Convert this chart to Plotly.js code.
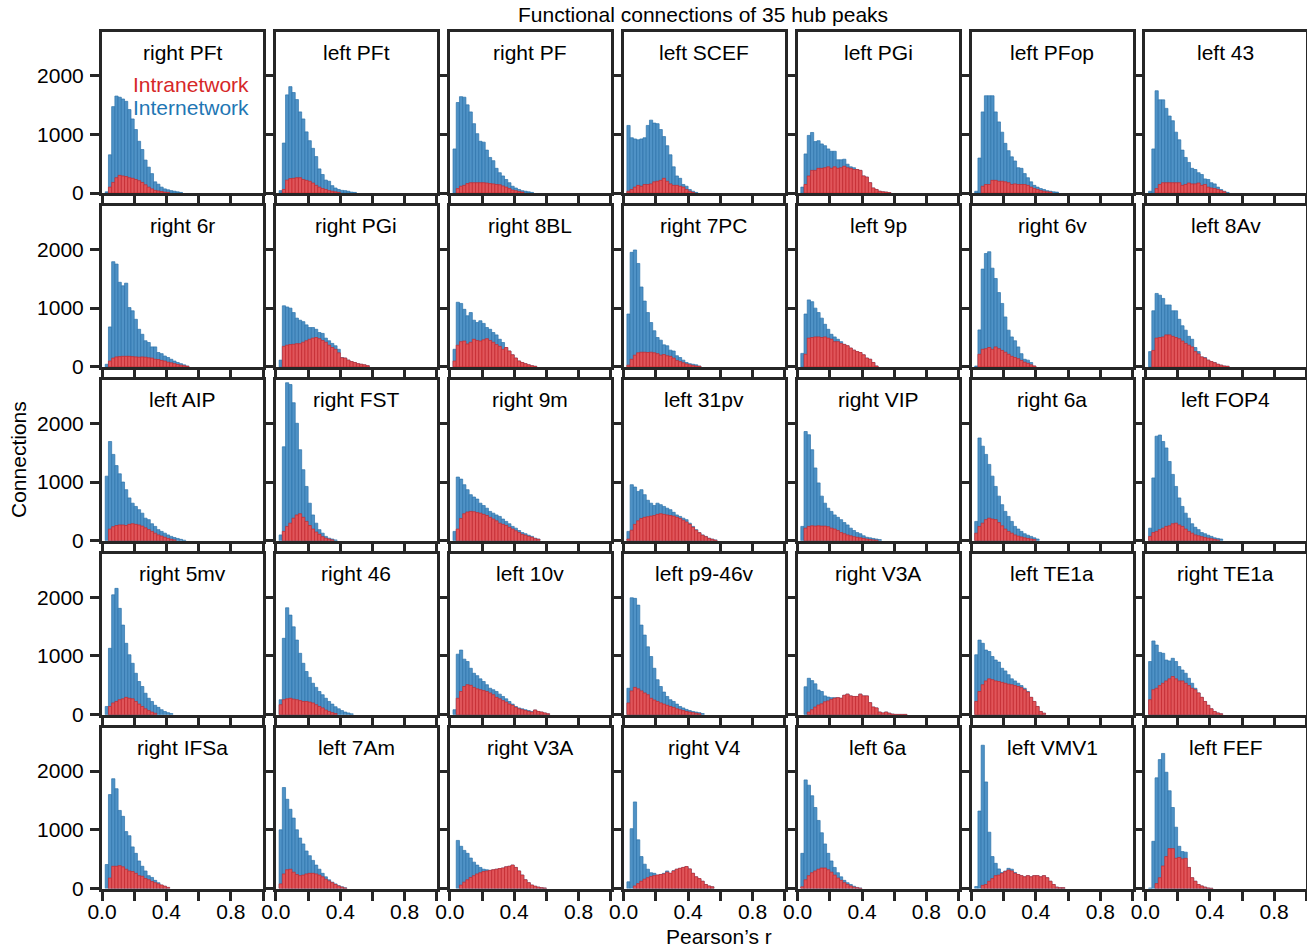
<!DOCTYPE html>
<html>
<head>
<meta charset="utf-8">
<script src="https://cdn.plot.ly/plotly-3.0.1.min.js"></script>
<style>html,body{margin:0;padding:0;background:#fff}#chart{width:1307px;height:951px}</style>
</head>
<body>
<div id="chart"></div>
<script>
// ---- data ----
const binStart = 0.0;
const binWidth = 0.02;

const panelTitles = [
  "right PFt","left PFt","right PF","left SCEF","left PGi","left PFop","left 43",
  "right 6r","right PGi","right 8BL","right 7PC","left 9p","right 6v","left 8Av",
  "left AIP","right FST","right 9m","left 31pv","right VIP","right 6a","left FOP4",
  "right 5mv","right 46","left 10v","left p9-46v","right V3A","left TE1a","right TE1a",
  "right IFSa","left 7Am","right V3A","right V4","left 6a","left VMV1","left FEF"
];

// Internetwork counts per bin (bin i covers [i*0.02, (i+1)*0.02))
const internetwork = [
  [0,20,650,1470,1650,1630,1600,1560,1420,1260,1080,880,740,560,440,330,190,150,100,70,55,40,30,20,10],
  [0,40,850,1670,1810,1710,1590,1380,1260,1040,890,760,620,410,315,220,200,125,85,60,45,40,30,15,10],
  [0,750,1540,1640,1630,1500,1380,1180,1010,880,865,730,605,550,420,345,290,230,175,115,85,60,40,30,20,10],
  [0,1150,940,920,905,920,940,1150,1240,1190,1180,1080,960,805,650,445,290,250,145,115,60,30,10],
  [0,100,665,980,1030,875,890,835,805,750,710,710,565,565,575,490,445,430,400,385,290,270,175,85,60,30,20,15,5],
  [0,30,595,1380,1655,1655,1655,1380,1210,1035,845,720,615,545,430,420,330,260,190,130,100,75,60,40,30,20,15],
  [0,30,750,1740,1585,1585,1440,1310,1230,1035,905,730,605,520,420,400,345,315,240,230,175,155,100,60,30,10],

  [0,45,680,1790,1750,1440,1380,1425,1010,955,810,640,555,445,415,340,340,245,225,185,160,130,100,75,55,35,15],
  [0,115,1040,1020,1000,925,830,795,770,715,670,670,640,585,570,490,445,400,360,300,160,150,115,90,75,55,45,35,20],
  [0,300,1100,1080,980,870,925,795,755,785,740,670,640,585,545,470,415,330,270,205,150,100,75,55,35,20,10],
  [0,900,1950,1990,1760,1360,1120,925,755,615,500,455,375,360,285,270,190,160,115,75,55,45,35,15],
  [0,230,900,1140,1110,1000,925,830,725,640,555,510,470,430,385,360,320,285,260,245,205,150,130,75,15],
  [0,15,630,1665,1930,1960,1680,1505,1265,1080,850,625,510,445,340,225,130,115,75,15],
  [0,260,955,1250,1220,1165,1055,1055,955,955,810,700,625,520,470,330,260,170,160,115,90,75,45,30,15,10],

  [0,1100,1690,1470,1280,1140,1000,870,730,640,585,530,470,385,360,290,245,190,160,130,100,75,55,40,25,10],
  [0,100,1600,2690,2660,2350,2000,1550,1210,925,640,440,300,190,130,75,45,30,15],
  [0,160,1085,1050,955,870,785,745,710,640,600,555,500,470,440,415,370,330,290,245,215,175,140,120,95,75,45,30],
  [0,160,955,915,840,870,785,690,640,600,640,615,585,555,530,485,440,415,385,360,300,245,190,140,100,75,45,30,15],
  [0,245,1860,1805,1550,1240,985,760,640,555,500,440,400,360,310,270,215,175,140,120,85,60,50,40,30,20],
  [0,330,1750,1610,1470,1300,1100,925,760,615,500,415,330,245,200,160,120,95,75,50,30],
  [0,215,1070,1780,1800,1690,1580,1350,1130,925,730,585,470,385,290,230,190,140,120,95,75,50,40,30],

  [0,140,1130,2040,2150,1810,1525,1215,1020,875,705,565,480,365,280,225,160,125,85,55,35,20],
  [0,255,1300,1820,1695,1495,1270,1045,875,735,635,535,465,395,340,280,225,180,135,100,70,45,30,15],
  [0,85,1030,1100,945,905,790,705,665,610,565,510,450,425,395,350,310,270,225,180,140,115,100,85,70,55,80,55,45,30,15],
  [0,450,1990,1980,1865,1525,1355,1155,990,790,595,480,385,310,255,225,180,140,115,90,70,55,45,35,20],
  [0,0,475,620,580,525,420,395,320,300,290,290,290,280,330,350,320,310,310,350,320,320,205,130,115,45,30,45,25,10,5,5,5,5],
  [0,1020,1270,1215,1100,1075,990,930,895,790,745,680,610,575,535,495,450,395,295,225,140,55,25],
  [0,905,1255,1185,1060,1045,930,915,960,905,820,760,705,620,535,450,370,295,225,160,100,55,30,15],

  [0,410,1600,1870,1700,1330,1230,970,900,710,600,470,380,300,220,190,140,100,60,40,20],
  [0,1000,1720,1520,1350,1200,1000,860,760,640,560,480,400,330,260,200,150,110,80,50,30,15],
  [0,0,820,720,650,600,520,450,400,360,330,320,310,320,330,340,350,370,380,400,360,300,230,150,100,60,40,25,15,10],
  [0,115,1020,1475,830,545,415,330,270,260,230,240,260,300,260,305,330,345,360,375,335,260,200,170,125,70,45,30],
  [0,600,1850,1760,1580,1380,1160,950,760,600,470,360,270,200,140,100,70,40,20,10],
  [0,35,1320,2440,1815,960,545,430,335,275,300,345,330,275,240,220,200,220,200,220,220,200,220,185,125,70,25,15,15],
  [0,10,805,1885,2195,2300,1980,1665,1380,1045,720,630,620,360,185,125,70,45,25,10,5]
];

// Intranetwork counts per bin
const intranetwork = [
  [0,0,100,180,260,300,290,280,260,250,230,210,180,140,100,70,45,35,25,15,10],
  [0,0,60,220,245,250,260,260,230,215,200,170,130,100,75,60,40,30,20,10],
  [0,0,75,115,130,160,175,175,175,175,175,170,160,155,145,140,120,100,75,50,40,25,15],
  [0,30,60,100,130,115,145,145,155,190,200,215,250,200,155,130,130,115,100,60,30,10],
  [0,0,145,290,385,385,420,420,430,445,420,445,420,430,455,430,420,400,400,385,290,270,175,85,60,30,20,15,5],
  [0,0,0,115,145,145,215,215,200,200,190,175,145,155,145,145,145,130,100,75,60,40,30,20,15],
  [0,0,0,75,145,175,175,175,175,175,175,130,145,170,155,155,170,130,145,100,85,75,60,40,20],

  [0,0,100,150,170,175,180,180,180,175,170,165,170,165,155,150,130,125,110,100,80,70,55,40,30,20,10],
  [0,0,350,370,380,385,395,395,420,445,470,490,500,480,450,420,370,330,300,240,155,150,115,90,75,55,45,35,20],
  [0,100,370,430,440,390,420,470,450,440,460,480,450,420,380,350,300,330,270,205,150,100,75,55,35,20,10],
  [0,30,130,200,240,250,250,245,250,240,225,200,210,190,180,150,110,90,70,50,35,25,15,10],
  [0,0,215,490,500,510,510,500,510,490,470,430,430,400,380,360,320,285,260,245,205,150,130,75,15],
  [0,0,215,300,310,330,300,340,310,280,250,215,180,160,140,110,80,60,35,15],
  [0,0,280,490,500,510,545,545,520,500,480,440,400,370,340,260,220,170,150,115,90,70,45,30,15,10],

  [0,0,200,240,260,270,270,260,280,290,280,270,250,220,190,160,130,100,80,60,40,25,15],
  [0,0,160,245,300,385,440,460,400,330,260,200,150,110,70,45,30,15],
  [0,0,200,380,460,490,500,495,480,470,450,430,400,370,340,300,280,260,230,200,170,140,110,95,75,60,35,25],
  [0,30,180,280,340,380,400,410,420,430,450,460,450,440,430,420,400,380,350,320,280,230,180,135,95,70,40,25,10],
  [0,0,215,245,255,250,255,250,250,240,215,200,175,140,120,100,85,70,60,50,40,30,20,15,10],
  [0,130,245,300,360,385,370,360,310,255,200,160,130,100,80,65,50,40,30,20],
  [0,75,140,160,190,215,245,255,290,300,270,245,200,160,130,100,85,70,55,45,35,25,15],

  [0,0,140,200,225,255,270,295,280,270,225,180,140,100,70,45,25],
  [0,170,255,270,280,265,255,240,225,225,215,200,170,140,115,80,55,35,20],
  [0,0,280,395,480,510,500,465,440,425,410,395,370,340,295,270,240,215,180,160,125,100,85,70,55,45,80,55,45,30,15],
  [0,200,405,465,440,405,370,340,280,250,225,200,180,160,140,125,100,85,70,55,45,35,25,15],
  [0,0,0,45,85,130,165,185,220,235,260,280,290,280,330,350,320,310,310,350,320,320,205,130,115,45,30,45,25,10,5,5,5,5],
  [0,225,395,510,575,610,595,575,565,550,535,520,510,495,480,460,425,385,295,225,140,55,25],
  [0,255,425,450,495,535,575,610,650,610,575,575,535,495,450,425,370,295,225,160,100,55,30,15],

  [0,0,180,380,380,390,370,330,300,290,260,220,210,170,150,120,100,80,60,40,20],
  [0,80,250,320,330,280,240,220,230,250,260,260,250,230,200,160,130,100,70,45,25,10],
  [0,0,0,60,110,150,190,220,250,270,290,300,310,320,330,340,350,370,380,400,360,300,230,150,100,60,40,25,15,10],
  [0,0,0,45,85,125,160,185,205,220,230,240,250,280,260,300,330,345,360,375,335,260,200,170,125,70,45,30],
  [0,30,150,220,270,300,330,350,350,320,280,230,180,140,100,70,45,25,15,5],
  [0,0,0,55,70,125,170,220,230,260,290,315,300,260,240,220,200,220,200,220,220,200,220,185,125,70,25,15,15],
  [0,0,0,85,185,385,545,680,680,515,530,505,515,360,185,125,70,45,25,10,5]
];

const seriesNames = ["Internetwork","Intranetwork"];
const xTickVals = [0,0.2,0.4,0.6,0.8,1.0];
const xTickText = ["0.0","","0.4","","0.8",""];
const yTickVals = [0,1000,2000];
const yTickText = ["0","1000","2000"];
const xRange = [0,1];
const yRange = [0,2740];

// ---- styling / geometry ----
const W = 1307, H = 951;
const nCols = 7, nRows = 5;
const left0 = 102, top0 = 32, step = 173.9, pw = 161, ph = 161;
const FONT = "Liberation Sans, Arial, Helvetica, sans-serif";
const INK = "#262626";
const BLUE = "#4f92c6", BLUE_EDGE = "#2c72aa";
const RED = "#e0555a", RED_EDGE = "#c9282d";

function toBars(counts) {
  const xs = [], ys = [];
  counts.forEach((v, i) => {
    if (v > 0) { xs.push(binStart + binWidth * (i + 0.5)); ys.push(v); }
  });
  return {xs, ys};
}

const traces = [];
const layout = {
  width: W, height: H,
  margin: {l:0, r:0, t:0, b:0},
  paper_bgcolor: "#fff", plot_bgcolor: "#fff",
  barmode: "overlay", bargap: 0,
  showlegend: false,
  font: {family: FONT, size: 21, color: "#000"},
  annotations: []
};

for (let p = 0; p < panelTitles.length; p++) {
  const r = Math.floor(p / nCols), c = p % nCols;
  const n = p + 1;
  const xa = n === 1 ? "x" : "x" + n;
  const ya = n === 1 ? "y" : "y" + n;
  const xk = n === 1 ? "xaxis" : "xaxis" + n;
  const yk = n === 1 ? "yaxis" : "yaxis" + n;
  const x0 = left0 + step * c, x1 = x0 + pw;
  const t = top0 + step * r, b = t + ph;

  const inter = toBars(internetwork[p]);
  const intra = toBars(intranetwork[p]);
  traces.push({type: "bar", name: seriesNames[0], x: inter.xs, y: inter.ys, width: binWidth,
    xaxis: xa, yaxis: ya, marker: {color: BLUE, line: {color: BLUE_EDGE, width: 0.7}}, hoverinfo: "skip"});
  traces.push({type: "bar", name: seriesNames[1], x: intra.xs, y: intra.ys, width: binWidth,
    xaxis: xa, yaxis: ya, marker: {color: RED, line: {color: RED_EDGE, width: 0.7}}, hoverinfo: "skip"});

  layout[xk] = {
    domain: [x0 / W, x1 / W], anchor: ya, range: xRange, fixedrange: true,
    showline: true, mirror: true, linewidth: 3, linecolor: INK,
    ticks: "outside", ticklen: 9, tickwidth: 3, tickcolor: INK,
    tickmode: "array", tickvals: xTickVals, ticktext: xTickText,
    ticklabelstandoff: -7,
    showticklabels: r === nRows - 1, showgrid: false, zeroline: false,
    tickfont: {family: FONT, size: 21, color: "#000"}, automargin: false
  };
  layout[yk] = {
    domain: [1 - b / H, 1 - t / H], anchor: xa, range: yRange, fixedrange: true,
    showline: true, mirror: true, linewidth: 3, linecolor: INK,
    ticks: "outside", ticklen: 9, tickwidth: 3, tickcolor: INK,
    tickmode: "array", tickvals: yTickVals, ticktext: yTickText,
    ticklabelstandoff: 2,
    showticklabels: c === 0, showgrid: false, zeroline: false,
    tickfont: {family: FONT, size: 21, color: "#000"}, automargin: false
  };
  layout.annotations.push({
    text: panelTitles[p], xref: xa + " domain", yref: ya + " domain",
    x: 0.5, y: 1, xanchor: "center", yanchor: "middle", yshift: -20,
    showarrow: false, font: {family: FONT, size: 21, color: "#000"}
  });
}

// legend text in first panel
layout.annotations.push({
  text: "Intranetwork", xref: "x domain", yref: "y domain", x: 0.925, y: 0.677,
  xanchor: "right", yanchor: "middle", showarrow: false,
  font: {family: FONT, size: 21, color: "#d62728"}
});
layout.annotations.push({
  text: "Internetwork", xref: "x domain", yref: "y domain", x: 0.925, y: 0.528,
  xanchor: "right", yanchor: "middle", showarrow: false,
  font: {family: FONT, size: 21, color: "#1f77b4"}
});
// figure title and axis labels
layout.annotations.push({
  text: "Functional connections of 35 hub peaks", xref: "paper", yref: "paper",
  x: 703 / W, y: 1 - 14 / H, xanchor: "center", yanchor: "middle", showarrow: false,
  font: {family: FONT, size: 21, color: "#000"}
});
layout.annotations.push({
  text: "Pearson’s r", xref: "paper", yref: "paper",
  x: 719 / W, y: 1 - 936 / H, xanchor: "center", yanchor: "middle", showarrow: false,
  font: {family: FONT, size: 21, color: "#000"}
});
layout.annotations.push({
  text: "Connections", xref: "paper", yref: "paper", textangle: -90,
  x: 18 / W, y: 1 - 460 / H, xanchor: "center", yanchor: "middle", showarrow: false,
  font: {family: FONT, size: 21, color: "#000"}
});

Plotly.newPlot("chart", traces, layout, {displayModeBar: false, staticPlot: true});
</script>
</body>
</html>
